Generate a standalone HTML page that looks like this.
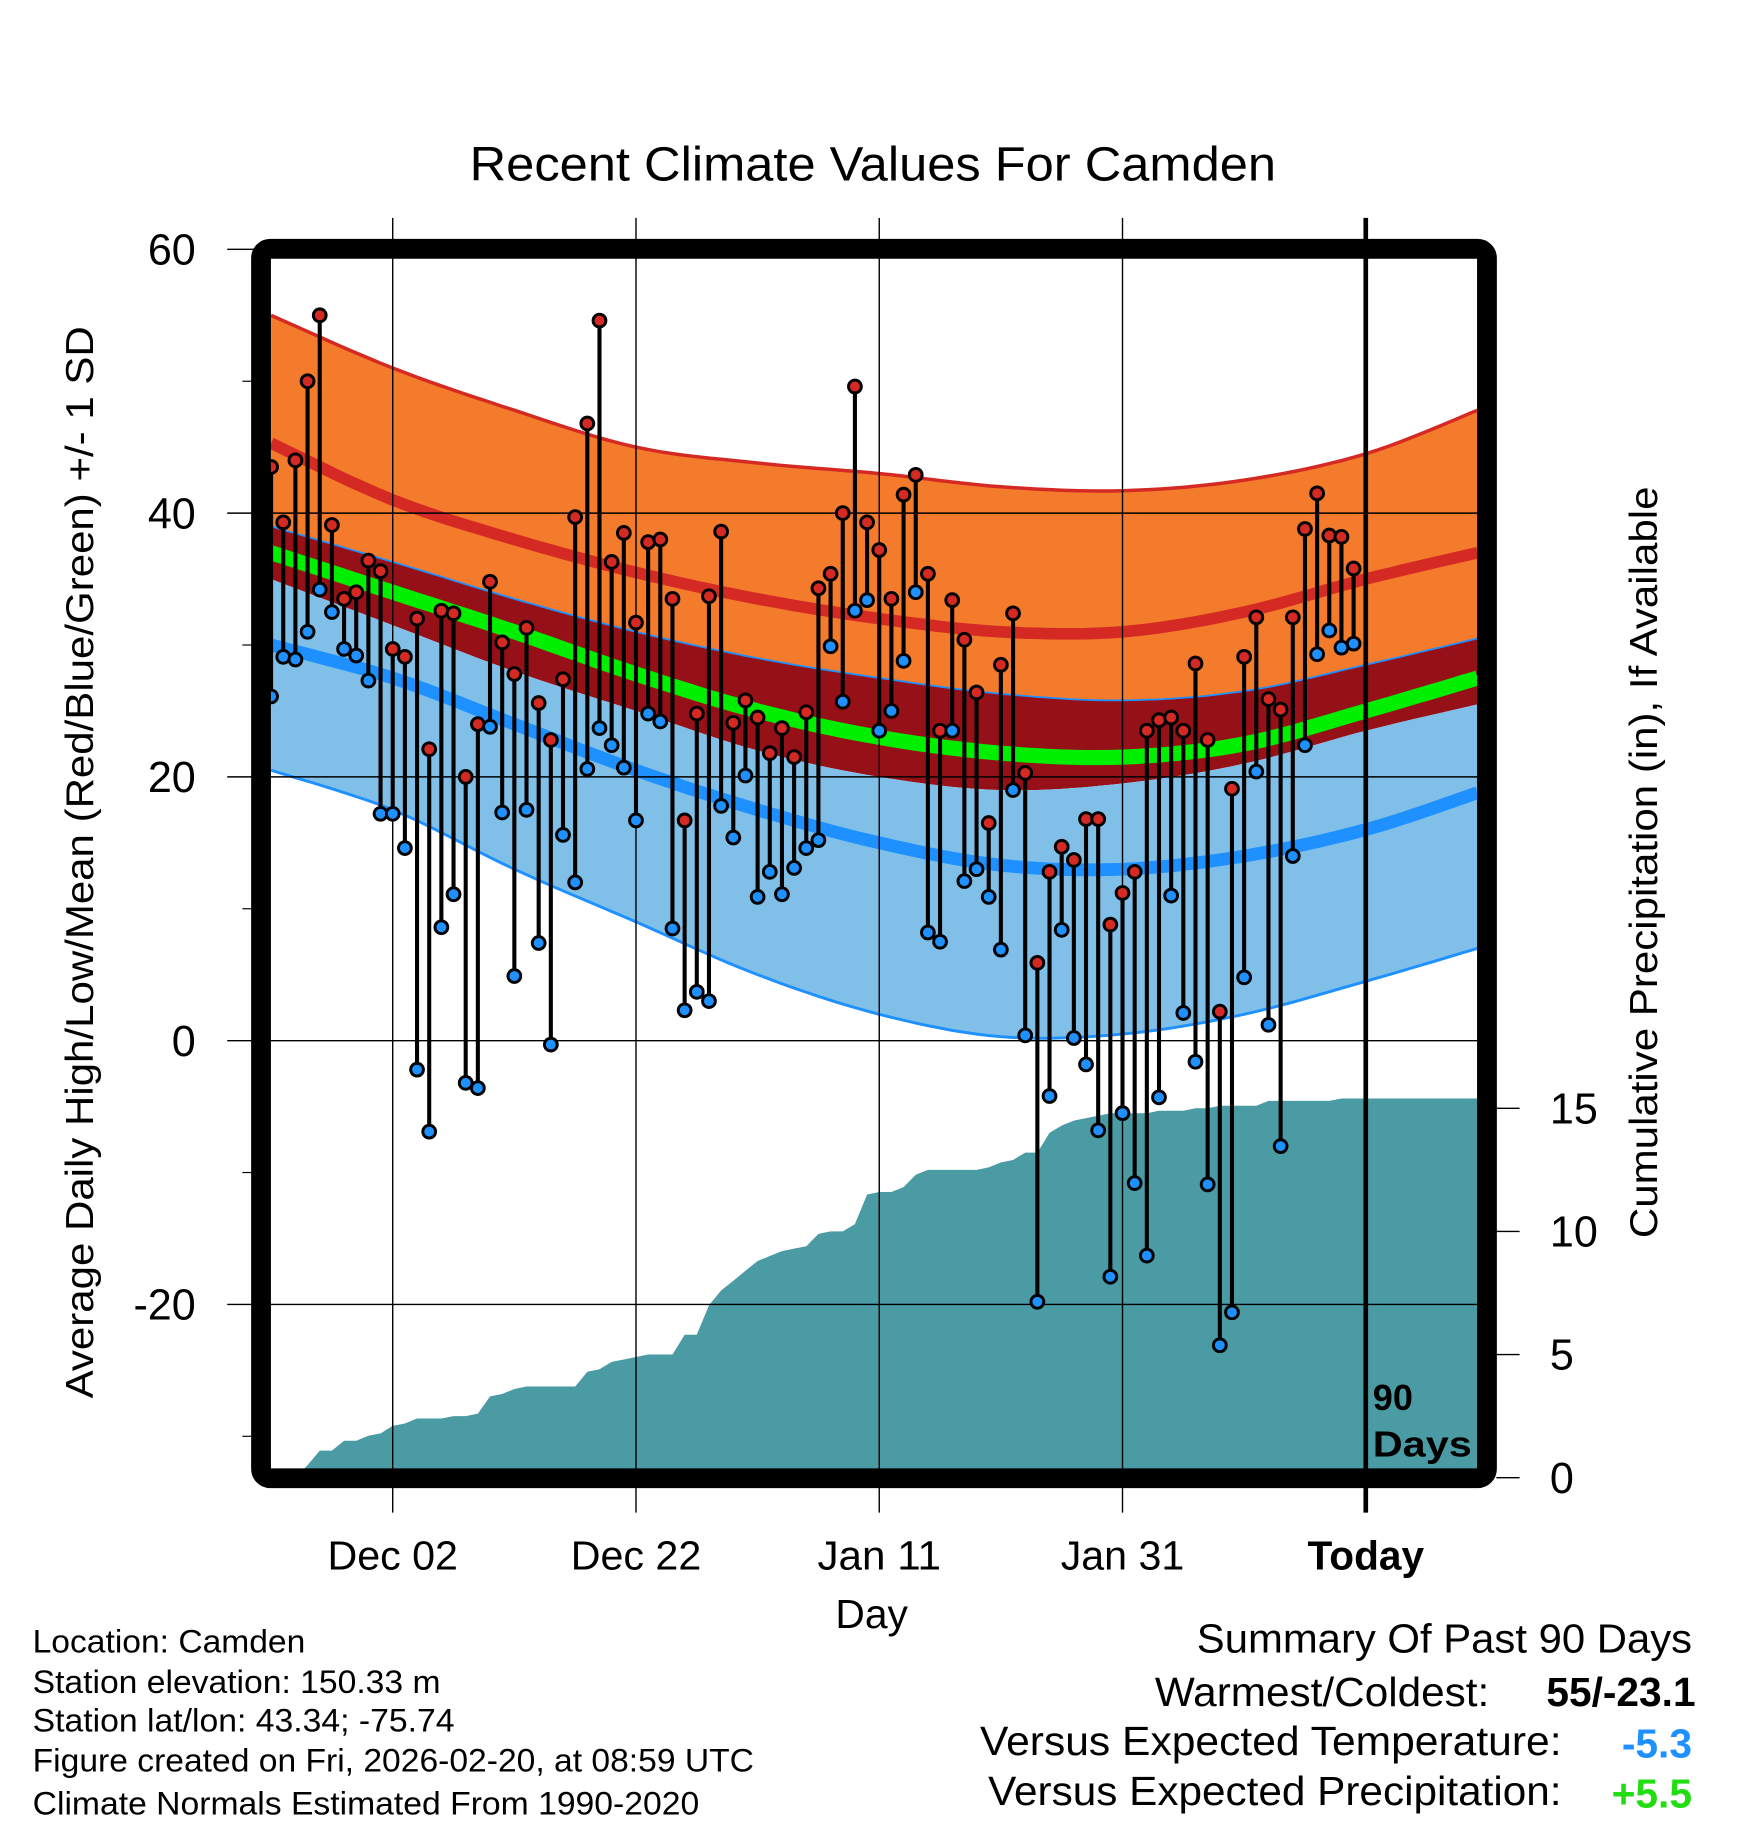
<!DOCTYPE html>
<html><head><meta charset="utf-8"><style>
html,body{margin:0;padding:0;background:#fff}
svg{display:block}
text{font-family:"Liberation Sans",Arial,sans-serif}
</style></head><body>
<svg id="chart" width="1748" height="1828" viewBox="0 0 1500 1568.65" xmlns="http://www.w3.org/2000/svg">
<defs><clipPath id="plotclip"><rect x="232" y="222" width="1036" height="1046"/></clipPath></defs>
<rect width="1500" height="1569" fill="#fff"/>
<text x="749" y="155" font-size="41" text-anchor="middle" textLength="692" lengthAdjust="spacingAndGlyphs">Recent Climate Values For Camden</text>
<g id="bands" clip-path="url(#plotclip)"></g>
<g id="grid"></g>
<g id="marks" clip-path="url(#plotclip)"></g>
<g id="axes"></g>
<rect x="224" y="213.5" width="1052" height="1055" rx="8" fill="none" stroke="#000" stroke-width="17"/>
<text font-size="31" font-weight="bold" x="1178" y="1210">90</text>
<text font-size="31" font-weight="bold" x="1178" y="1250" textLength="85" lengthAdjust="spacingAndGlyphs">Days</text>
<text font-size="33" text-anchor="middle" transform="translate(80,740) rotate(-90)" textLength="920" lengthAdjust="spacingAndGlyphs">Average Daily High/Low/Mean (Red/Blue/Green) +/- 1 SD</text>
<text font-size="33" text-anchor="middle" transform="translate(1422,740) rotate(-90)" textLength="645" lengthAdjust="spacingAndGlyphs">Cumulative Precipitation (in), If Available</text>
<text font-size="35" text-anchor="middle" x="748" y="1397">Day</text>
<g font-size="28">
<text x="28" y="1418" textLength="234" lengthAdjust="spacingAndGlyphs">Location: Camden</text>
<text x="28" y="1453" textLength="350" lengthAdjust="spacingAndGlyphs">Station elevation: 150.33 m</text>
<text x="28" y="1486" textLength="362" lengthAdjust="spacingAndGlyphs">Station lat/lon: 43.34; -75.74</text>
<text x="28" y="1520" textLength="619" lengthAdjust="spacingAndGlyphs">Figure created on Fri, 2026-02-20, at 08:59 UTC</text>
<text x="28" y="1557" textLength="572" lengthAdjust="spacingAndGlyphs">Climate Normals Estimated From 1990-2020</text>
</g>
<g font-size="35">
<text x="1027" y="1418" textLength="425" lengthAdjust="spacingAndGlyphs">Summary Of Past 90 Days</text>
<text x="991" y="1464" textLength="287" lengthAdjust="spacingAndGlyphs">Warmest/Coldest:</text>
<text x="1327" y="1464" font-weight="bold" textLength="128" lengthAdjust="spacingAndGlyphs">55/-23.1</text>
<text x="841" y="1506" textLength="499" lengthAdjust="spacingAndGlyphs">Versus Expected Temperature:</text>
<text x="1452" y="1508" text-anchor="end" font-weight="bold" fill="#1e90ff">-5.3</text>
<text x="848" y="1549" textLength="492" lengthAdjust="spacingAndGlyphs">Versus Expected Precipitation:</text>
<text x="1452" y="1551" text-anchor="end" font-weight="bold" fill="#22dd11">+5.5</text>
</g>
</svg>
<script>
const normDays=[-90,-80,-70,-60,-50,-40,-30,-20,-10,0,9.2];
const normTop=[55,51,47.8,45,43.8,43,42,41.7,42.5,44.5,47.8];
const normRedLine=[45.3,41,38,35.5,33.5,32,31,31,32.5,35,37];
const normUpper=[39,36.3,33.5,31,29,27.5,26.3,25.8,26.5,28.5,30.5];
const normMean=[37,34,31,27.8,25,23,21.8,21.5,22.5,25,27.5];
const normLowerDark=[35,31.5,28,25,22,20,19,19.5,21,23.5,25.5];
const normLowLine=[30,27.5,24,20.5,17.5,15,13.3,13,14,16,18.8];
const normBottom=[20.5,17.5,13,9,5,2,0.3,0.5,2,4.5,7];
const highs=[43.5,39.3,44,50,55,39.1,33.5,34,36.4,35.6,29.7,29.1,32,22.1,32.6,32.4,20,24,34.8,30.2,27.8,31.3,25.6,22.8,27.4,39.7,46.8,54.6,36.3,38.5,31.7,37.8,38,33.5,16.7,24.8,33.7,38.6,24.1,25.8,24.5,21.8,23.7,21.5,24.9,34.3,35.4,40,49.6,39.3,37.2,33.5,41.4,42.9,35.4,23.5,33.4,30.4,26.4,16.5,28.5,32.4,20.3,5.9,12.8,14.7,13.7,16.8,16.8,8.8,11.2,12.8,23.5,24.3,24.5,23.5,28.6,22.8,2.2,19.1,29.1,32.1,25.9,25.1,32.1,38.8,41.5,38.3,38.2,35.8];
const lows=[26.1,29.1,28.9,31,34.2,32.5,29.7,29.2,27.3,17.2,17.2,14.6,-2.2,-6.9,8.6,11.1,-3.2,-3.6,23.8,17.3,4.9,17.5,7.4,-0.3,15.6,12,20.6,23.7,22.4,20.7,16.7,24.8,24.2,8.5,2.3,3.7,3,17.8,15.4,20.1,10.9,12.8,11.1,13.1,14.6,15.2,29.9,25.7,32.6,33.4,23.5,25,28.8,34,8.2,7.5,23.5,12.1,13,10.9,6.9,19,0.4,-19.8,-4.2,8.4,0.2,-1.8,-6.8,-17.9,-5.5,-10.8,-16.3,-4.3,11,2.1,-1.6,-10.9,-23.1,-20.6,4.8,20.4,1.2,-8,14,22.4,29.3,31.1,29.8,30.1];
const precip=[0,0,0,0.5,1.1,1.1,1.5,1.5,1.7,1.8,2.1,2.2,2.4,2.4,2.4,2.5,2.5,2.6,3.3,3.4,3.6,3.7,3.7,3.7,3.7,3.7,4.3,4.4,4.7,4.8,4.9,5.0,5.0,5.0,5.8,5.8,7.0,7.6,8.0,8.4,8.8,9.0,9.2,9.3,9.4,9.9,10.0,10.0,10.3,11.5,11.6,11.6,11.8,12.3,12.5,12.5,12.5,12.5,12.5,12.6,12.8,12.9,13.2,13.2,14.0,14.3,14.5,14.6,14.7,14.8,14.8,14.8,14.8,14.9,14.9,14.9,15.0,15.0,15.1,15.1,15.1,15.1,15.3,15.3,15.3,15.3,15.3,15.3,15.4,15.4];
const yTicks=[60,40,20,0,-20];
const yMinor=[50,30,10,-10,-30];
const pTicks=[0,5,10,15];
const xTickDays=[-80,-60,-40,-20,0];
const xTickLabels=["Dec 02","Dec 22","Jan 11","Jan 31","Today"];
const xTickWidths=[112,112,106,106,100];

const NS="http://www.w3.org/2000/svg";
const xs=d=>1172+10.4375*d;
const ys=t=>893-11.317*t;
const yp=p=>1268-21.13*p;
function mk(tag,attrs,parent){const e=document.createElementNS(NS,tag);for(const k in attrs)e.setAttribute(k,attrs[k]);parent.appendChild(e);return e;}
const bands=document.getElementById('bands'),grid=document.getElementById('grid'),marks=document.getElementById('marks'),axes=document.getElementById('axes');
function pts(arr){
  const n=normDays.length,out=[];
  for(let i=0;i<n-1;i++){
    const d0=normDays[Math.max(i-1,0)],d1=normDays[i],d2=normDays[i+1],d3=normDays[Math.min(i+2,n-1)];
    const v0=arr[Math.max(i-1,0)],v1=arr[i],v2=arr[i+1],v3=arr[Math.min(i+2,n-1)];
    for(let s=0;s<10;s++){
      const t=s/10,t2=t*t,t3=t2*t;
      const f=(p0,p1,p2,p3)=>0.5*(2*p1+(-p0+p2)*t+(2*p0-5*p1+4*p2-p3)*t2+(-p0+3*p1-3*p2+p3)*t3);
      out.push(xs(f(d0,d1,d2,d3)).toFixed(1)+','+ys(f(v0,v1,v2,v3)).toFixed(1));
    }
  }
  out.push(xs(normDays[n-1]).toFixed(1)+','+ys(arr[n-1]).toFixed(1));
  return out;
}
function area(top,bot,fill,name){
  const p=pts(top).concat(pts(bot).reverse());
  const e=mk('polygon',{points:p.join(' '),fill:fill},bands);
  
  
}
function line(arr,stroke,w,name){
  const e=mk('polyline',{points:pts(arr).join(' '),fill:'none',stroke:stroke,'stroke-width':w,'stroke-linejoin':'round'},bands);
  
  
}
area(normTop,normUpper,'#f47a2c','high-sd-band');
area(normUpper,normLowerDark,'#961018','mean-sd-band');
area(normLowerDark,normBottom,'#80c0e8','low-sd-band');
line(normTop,'#d42a23',3,'high-plus-sd-line');
line(normRedLine,'#d42a23',10,'normal-high-line');
line(normUpper,'#1e90ff',1.5,'mean-plus-sd-line');
line(normMean,'#00ee00',13,'normal-mean-line');
line(normLowLine,'#1e90ff',11,'normal-low-line');
line(normBottom,'#1e90ff',2.5,'low-minus-sd-line');

{
  let p=[xs(-90)+','+yp(0)];
  precip.forEach((v,i)=>p.push(xs(i-90).toFixed(1)+','+yp(v).toFixed(1)));
  p.push('1270,'+yp(precip[precip.length-1]).toFixed(1));
  p.push('1270,'+yp(0));
  const e=mk('polygon',{points:p.join(' '),fill:'#4a9ba4'},bands);
  
  
}
yTicks.forEach(t=>{
  const e=mk('line',{x1:195,x2:1268,y1:ys(t),y2:ys(t),stroke:'#000','stroke-width':1.2},grid);
  
  
  const l=mk('text',{x:168,y:ys(t)+13,'font-size':37,'text-anchor':'end'},axes);
  l.textContent=String(t);
  
  
});
yMinor.forEach(t=>{
  const e=mk('line',{x1:208,x2:216,y1:ys(t),y2:ys(t),stroke:'#000','stroke-width':1},grid);
  
  
});
pTicks.forEach(p=>{
  const e=mk('line',{x1:1284,x2:1304,y1:yp(p),y2:yp(p),stroke:'#000','stroke-width':1.2},grid);
  
  
  const l=mk('text',{x:1330,y:yp(p)+13,'font-size':37},axes);
  l.textContent=String(p);
  
  
});
xTickDays.forEach((d,i)=>{
  const e=mk('line',{x1:xs(d),x2:xs(d),y1:187,y2:1298,stroke:'#000','stroke-width':d===0?4:1.2},grid);
  
  
  const l=mk('text',{x:xs(d),y:1347,'font-size':35,'text-anchor':'middle','font-weight':d===0?'bold':'normal',textLength:xTickWidths[i],lengthAdjust:'spacingAndGlyphs'},axes);
  l.textContent=xTickLabels[i];
  
  
});
highs.forEach((h,i)=>{
  const x=xs(i-90),lo=lows[i];
  const s=mk('line',{x1:x,x2:x,y1:ys(h),y2:ys(lo),stroke:'#000','stroke-width':3.5},marks);
  
  
  const a=mk('circle',{cx:x,cy:ys(h),r:5.5,fill:'#d42a23',stroke:'#000','stroke-width':2.5},marks);
  
  
  const b=mk('circle',{cx:x,cy:ys(lo),r:5.5,fill:'#1e90ff',stroke:'#000','stroke-width':2.5},marks);
  
  
});
</script>
</body></html>
